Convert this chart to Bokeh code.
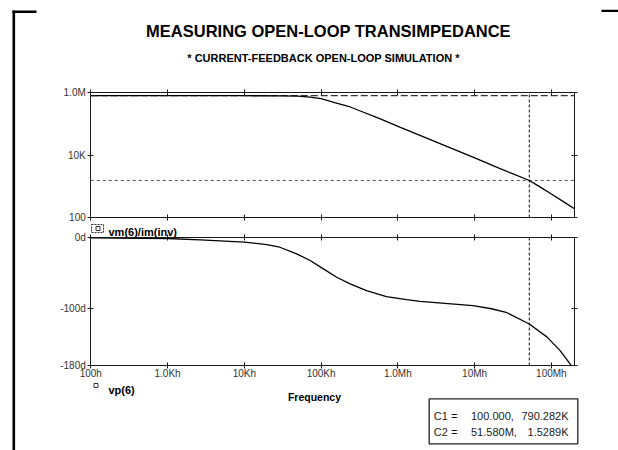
import math
from bokeh.plotting import figure
from bokeh.models import Range1d, LogAxis, LinearAxis, FixedTicker, LogScale, LinearScale
from bokeh.core.properties import value
from bokeh.embed import file_html
from bokeh.resources import INLINE

# ---------------- data ----------------
title_text = "MEASURING OPEN-LOOP TRANSIMPEDANCE"
subtitle_text = "* CURRENT-FEEDBACK OPEN-LOOP SIMULATION *"

freq_mag = [100, 1e3, 1e4, 3e4, 5e4, 7.2e4, 1e5, 1.5e5, 2.4e5, 3.5e5, 5.8e5, 1.06e6, 1.94e6,
            9.5e6, 2e7, 3e7, 5.158e7, 7e7, 1e8, 1.5e8, 2e8]
mag = [790282, 790000, 789000, 785000, 760000, 707000, 640000, 476000, 344000, 238000,
       146000, 78300, 42400, 8500, 3950, 2620, 1528.9, 970, 565, 300, 190]

freq_ph = [100, 1e3, 2.68e3, 1e4, 1.96e4, 2.9e4, 4.8e4, 7.2e4, 1.07e5, 1.6e5, 2.39e5,
           3.91e5, 7.1e5, 1.3e6, 1.94e6, 9.5e6, 1.66e7, 2.57e7, 5.158e7, 8.8e7, 1.3e8, 1.8e8]
phase = [0, -1, -2.8, -6.2, -9.5, -13.3, -22.6, -32, -43.8, -55.6, -65,
         -74.4, -82.9, -87.1, -89.5, -95.6, -100, -105, -121.5, -140, -159, -179.5]

freq_limits = (100, 2e8)
mag_limits = (100, 1e6)
phase_limits = (-180, 0)

x_ticks = [1e2, 1e3, 1e4, 1e5, 1e6, 1e7, 1e8]
x_tick_labels = ["100h", "1.0Kh", "10Kh", "100Kh", "1.0Mh", "10Mh", "100Mh"]
mag_ticks = [1e2, 1e4, 1e6]
mag_tick_labels = ["100", "10K", "1.0M"]
ph_ticks = [-180, -100, 0]
ph_tick_labels = ["-180d", "-100d", "0d"]

c1 = (100.0, 790282.0)
c2 = (51.58e6, 1528.9)
cursor_rows = [("C1 =", "100.000,", "790.282K"), ("C2 =", "51.580M,", "1.5289K")]

legend_mag = "vm(6)/im(inv)"
legend_ph = "vp(6)"
xlabel = "Frequency"

# ---------------- layout (page pixels) ----------------
W, H = 618, 450
PX_L, PX_R = 90.3, 574.0          # plot panels, left/right
MAG_T, MAG_B = 92.0, 217.0        # magnitude panel top/bottom
PH_T, PH_B = 237.3, 365.0         # phase panel top/bottom

FONT = value("Liberation Sans")
INK = "#1a1a1a"
LBL = "#333333"


def log_span(v0, v1, p0, p1, c0, c1):
    a0, a1 = math.log10(v0), math.log10(v1)
    k = (a1 - a0) / (p1 - p0)
    return 10 ** (a0 + (c0 - p0) * k), 10 ** (a0 + (c1 - p0) * k)


def lin_span(v0, v1, p0, p1, c0, c1):
    k = (v1 - v0) / (p1 - p0)
    return v0 + (c0 - p0) * k, v0 + (c1 - p0) * k


p = figure(width=W, height=H, x_range=Range1d(0, W), y_range=Range1d(H, 0),
           min_border=0, x_axis_location=None, y_axis_location=None,
           toolbar_location=None, output_backend="svg")
p.grid.grid_line_color = None
p.outline_line_color = None
p.background_fill_color = "white"
p.border_fill_color = "white"

fx0, fx1 = log_span(freq_limits[0], freq_limits[1], PX_L, PX_R, 0, W)
my0, my1 = log_span(mag_limits[0], mag_limits[1], MAG_B, MAG_T, H, 0)
py0, py1 = lin_span(phase_limits[0], phase_limits[1], PH_B, PH_T, H, 0)
p.extra_x_ranges = {"f": Range1d(fx0, fx1)}
p.extra_x_scales = {"f": LogScale()}
p.extra_y_ranges = {"mag": Range1d(my0, my1), "ph": Range1d(py0, py1)}
p.extra_y_scales = {"mag": LogScale(), "ph": LinearScale()}


def axis(cls, yname, loc, bounds, ticks, labels=None, standoff=2):
    ax = cls(x_range_name="f", y_range_name=yname, fixed_location=loc, bounds=bounds,
             ticker=FixedTicker(ticks=ticks))
    ax.axis_line_color = INK
    ax.axis_line_width = 1
    ax.major_tick_line_color = INK
    ax.major_tick_in = 3
    ax.major_tick_out = 3
    ax.minor_tick_line_color = None
    ax.major_label_text_font = "Liberation Sans"
    ax.major_label_text_color = LBL
    if labels is None:
        ax.major_label_text_font_size = "1px"
        ax.major_label_text_alpha = 0
        ax.major_label_standoff = 0
    else:
        ax.major_label_text_font_size = "10px"
        ax.major_label_standoff = standoff
        ax.major_label_overrides = {t: l for t, l in zip(ticks, labels)}
    return ax


# magnitude panel axes
p.add_layout(axis(LogAxis, "mag", freq_limits[0], mag_limits, mag_ticks, mag_tick_labels), "left")
p.add_layout(axis(LogAxis, "mag", freq_limits[1], mag_limits, mag_ticks), "right")
p.add_layout(axis(LogAxis, "mag", mag_limits[1], freq_limits, x_ticks), "above")
p.add_layout(axis(LogAxis, "mag", mag_limits[0], freq_limits, x_ticks), "below")
# phase panel axes
p.add_layout(axis(LinearAxis, "ph", freq_limits[0], phase_limits, ph_ticks, ph_tick_labels), "left")
p.add_layout(axis(LinearAxis, "ph", freq_limits[1], phase_limits, ph_ticks), "right")
p.add_layout(axis(LogAxis, "ph", phase_limits[1], freq_limits, x_ticks), "above")
p.add_layout(axis(LogAxis, "ph", phase_limits[0], freq_limits, x_ticks, x_tick_labels, standoff=-1), "below")

# cursors
p.segment(x0=[freq_limits[0]], y0=[c1[1]], x1=[freq_limits[1]], y1=[c1[1]],
          x_range_name="f", y_range_name="mag",
          line_color="#333333", line_width=1.3, line_dash="7 3")
p.segment(x0=[freq_limits[0]], y0=[c2[1]], x1=[freq_limits[1]], y1=[c2[1]],
          x_range_name="f", y_range_name="mag",
          line_color="#444444", line_width=0.9, line_dash="3 3")
p.segment(x0=[c2[0]], y0=[mag_limits[0]], x1=[c2[0]], y1=[mag_limits[1]],
          x_range_name="f", y_range_name="mag",
          line_color="#222222", line_width=1.1, line_dash="3 2")
p.segment(x0=[c2[0]], y0=[phase_limits[0]], x1=[c2[0]], y1=[phase_limits[1]],
          x_range_name="f", y_range_name="ph",
          line_color="#222222", line_width=1.1, line_dash="3 2")

# traces
p.line(freq_mag, mag, x_range_name="f", y_range_name="mag", line_color="black", line_width=1.3)
p.line(freq_ph, phase, x_range_name="f", y_range_name="ph", line_color="black", line_width=1.3)

# page frame marks
p.segment(x0=[13.3], y0=[10], x1=[13.3], y1=[H], line_color="black", line_width=2.6)
p.segment(x0=[12.0], y0=[11.2], x1=[36.0], y1=[11.2], line_color="black", line_width=2.4)
p.segment(x0=[601.0], y0=[10.4], x1=[W], y1=[10.4], line_color="black", line_width=2.4)

# titles
p.text(x=[328], y=[30], text=[title_text], text_font=FONT, text_font_style="bold",
       text_font_size="16.5px", text_align="center", text_baseline="alphabetic", text_color="black")
p.text(x=[323], y=[57], text=[subtitle_text], text_font=FONT, text_font_style="bold",
       text_font_size="11px", text_align="center", text_baseline="alphabetic", text_color="black")

# legends
p.rect(x=[97], y=[228], width=12, height=8, fill_color=None,
       line_color="#333333", line_width=1, line_dash="2 1")
p.rect(x=[97.5], y=[228], width=4, height=4, fill_color=None, line_color="#333333", line_width=1)
p.text(x=[108], y=[231.5], text=[legend_mag], text_font=FONT, text_font_style="bold",
       text_font_size="11px", text_align="left", text_baseline="alphabetic", text_color="black")
p.rect(x=[95.5], y=[385], width=4, height=4, fill_color=None, line_color="#333333", line_width=1)
p.text(x=[108], y=[389.5], text=[legend_ph], text_font=FONT, text_font_style="bold",
       text_font_size="11px", text_align="left", text_baseline="alphabetic", text_color="black")
p.text(x=[314], y=[396.5], text=[xlabel], text_font=FONT, text_font_style="bold",
       text_font_size="10.5px", text_align="center", text_baseline="alphabetic", text_color="black")

# cursor readout box
p.rect(x=[503], y=[420.8], width=148.6, height=45, fill_color=None, line_color="#222222", line_width=1.3)
row_base = [415, 431.5]
p.text(x=[433.3, 433.3], y=row_base, text=[r[0] for r in cursor_rows], text_font=FONT,
       text_font_size="11px", text_align="left", text_baseline="alphabetic", text_color=INK)
p.text(x=[470.5, 470.5], y=row_base, text=[r[1] for r in cursor_rows], text_font=FONT,
       text_font_size="11px", text_align="left", text_baseline="alphabetic", text_color=INK)
p.text(x=[568, 568], y=row_base, text=[r[2] for r in cursor_rows], text_font=FONT,
       text_font_size="11px", text_align="right", text_baseline="alphabetic", text_color=INK)

open("out.html", "w").write(file_html(p, INLINE))
